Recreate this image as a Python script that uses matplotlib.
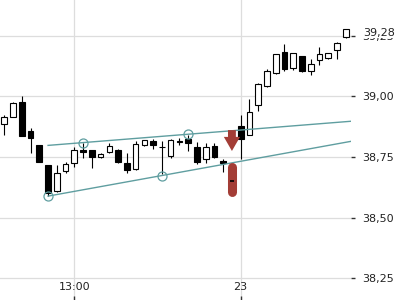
import numpy as np
import matplotlib.pyplot as plt
from matplotlib.patches import FancyArrow
from matplotlib.ticker import FuncFormatter

# candle data (bar index 26 is empty, the signal sits there)
opens = [38.886, 38.916, 38.975, 38.858, 38.799, 38.717, 38.609, 38.693, 38.724, 38.779,
         38.779, 38.750, 38.770, 38.779, 38.725, 38.700, 38.799, 38.816, 38.793, 38.754,
         38.818, 38.824, 38.791, 38.742, 38.795, 38.733, np.nan, 38.878, 38.841, 38.964,
         39.042, 39.096, 39.183, 39.117, 39.166, 39.104, 39.150, 39.158, 39.191, 39.244]
closes = [38.915, 38.974, 38.838, 38.827, 38.731, 38.600, 38.683, 38.720, 38.778, 38.771,
          38.751, 38.762, 38.795, 38.729, 38.696, 38.803, 38.820, 38.799, 38.790, 38.820,
          38.814, 38.808, 38.729, 38.791, 38.750, 38.725, np.nan, 38.824, 38.935, 39.051,
          39.104, 39.174, 39.112, 39.178, 39.104, 39.133, 39.174, 39.178, 39.220, 39.277]
highs = [38.923, 38.976, 39.001, 38.871, 38.800, 38.718, 38.716, 38.731, 38.790, 38.806,
         38.781, 38.766, 38.808, 38.783, 38.766, 38.816, 38.822, 38.824, 38.816, 38.824,
         38.828, 38.841, 38.812, 38.808, 38.808, 38.742, np.nan, 38.923, 38.989, 39.055,
         39.112, 39.176, 39.215, 39.180, 39.168, 39.154, 39.203, 39.180, 39.222, 39.279]
lows = [38.841, 38.914, 38.836, 38.768, 38.729, 38.589, 38.607, 38.683, 38.707, 38.745,
        38.703, 38.746, 38.768, 38.725, 38.684, 38.698, 38.797, 38.783, 38.680, 38.746,
        38.799, 38.775, 38.721, 38.725, 38.746, 38.688, np.nan, 38.742, 38.839, 38.939,
        39.040, 39.094, 39.104, 39.108, 39.102, 39.088, 39.129, 39.154, 39.154, 39.242]

x_ticks = [8, 27]
x_labels = ['13:00', '23']
y_ticks = [38.25, 38.50, 38.75, 39.00, 39.25]

# channel lines and the points where price touched them
upper_x = [5, 39.8]
upper_y = [38.798, 38.898]
lower_x = [5, 39.8]
lower_y = [38.589, 38.816]
upper_touch = [9, 21]
lower_touch = [5, 18]

# sell signal
signal_x = 26
arrow_top, arrow_tip = 38.861, 38.775
bar_top, bar_bottom = 38.707, 38.604
bar_mark = 38.651

teal = '#5f9ea0'
red = '#a33d36'

o = np.array(opens)
c = np.array(closes)
h = np.array(highs)
l = np.array(lows)
idx = np.arange(len(o))
ok = ~np.isnan(o)

fig = plt.figure(figsize=(4, 3), dpi=100)
ax = fig.add_axes([0, 0, 0.8775, 1])

ax.vlines(idx[ok], l[ok], h[ok], color='black', lw=0.8, zorder=3)
up = ok & (c >= o)
dn = ok & (c < o)
ax.bar(idx[up], (c - o)[up], bottom=o[up], width=0.65, color='white',
       edgecolor='black', lw=0.8, zorder=4)
ax.bar(idx[dn], (o - c)[dn], bottom=c[dn], width=0.65, color='black',
       edgecolor='black', lw=0.8, zorder=4)

ax.plot(upper_x, upper_y, color=teal, lw=1, zorder=5)
ax.plot(lower_x, lower_y, color=teal, lw=1, zorder=5)
ax.plot(upper_touch, np.interp(upper_touch, upper_x, upper_y), 'o', mfc='none',
        mec=teal, ms=6.5, mew=0.9, zorder=6)
ax.plot(lower_touch, np.interp(lower_touch, lower_x, lower_y), 'o', mfc='none',
        mec=teal, ms=6.5, mew=0.9, zorder=6)

ax.add_patch(FancyArrow(signal_x, arrow_top, 0, arrow_tip - arrow_top, width=0.9,
                        head_width=1.85, head_length=0.058, length_includes_head=True,
                        color=red, lw=0, zorder=7))
ax.plot([signal_x, signal_x], [bar_top, bar_bottom], color=red, lw=6.5,
        solid_capstyle='round', zorder=7)
ax.plot(signal_x, bar_mark, marker='_', color='black', ms=3.5, mew=1.2, zorder=8)

ax.set_xlim(-0.49, 39.6)
ax.set_ylim(38.161, 39.397)
for s in ax.spines.values():
    s.set_visible(False)

ax.set_xticks(x_ticks)
ax.set_xticklabels(x_labels)
ax.set_yticks(y_ticks)
ax.yaxis.set_major_formatter(FuncFormatter(lambda v, p: f'{v:.2f}'.replace('.', ',')))
ax.yaxis.tick_right()
ax.tick_params(axis='y', length=3, width=1, color='#333333', pad=5,
               labelsize=8, labelcolor='#222222')
ax.tick_params(axis='x', direction='in', length=3, width=1, color='#333333',
               pad=-13, labelsize=8, labelcolor='#222222')
ax.grid(True, color='#dddddd', lw=0.9)
ax.set_axisbelow(True)

# last price label, drawn over the top tick label
last = closes[-1]
ax.annotate(f'{last:.2f}'.replace('.', ','), xy=(1, last), xycoords=ax.get_yaxis_transform(),
            xytext=(8.6, -2.5), textcoords='offset points', ha='left', va='center',
            fontsize=8, color='#222222', annotation_clip=False,
            bbox=dict(facecolor='white', edgecolor='none', pad=0.6), zorder=10)

fig.savefig('out.png', dpi=100)
